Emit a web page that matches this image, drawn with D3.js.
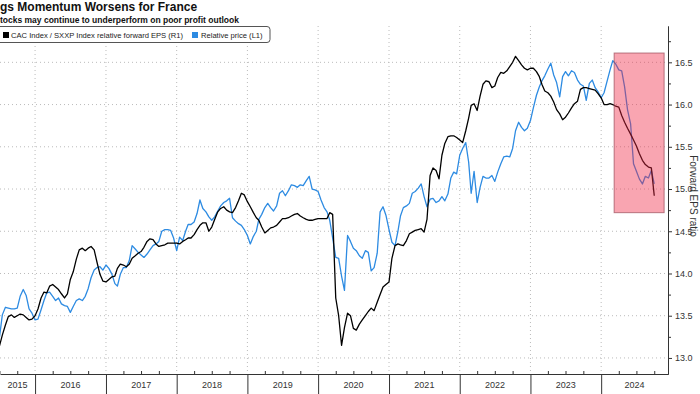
<!DOCTYPE html>
<html>
<head>
<meta charset="utf-8">
<script src="https://cdn.jsdelivr.net/npm/d3@7"></script>
<style>
  body { margin: 0; background: #fff; }
  svg { font-family: "Liberation Sans", Arial, sans-serif; display: block; }
  .axis text { fill: #333; font-size: 9px; }
  .axis path, .axis line { stroke: #333; }
</style>
</head>
<body>
<div id="chart"></div>
<script>
// CAC / SXXP relative forward EPS (right axis), semi-monthly from Jul 2015
const epsRatio = [
  13.14,13.27,13.39,13.49,13.51,13.48,13.50,13.52,13.51,13.48,
  13.45,13.46,13.50,13.58,13.71,13.78,13.77,13.85,13.87,13.84,
  13.81,13.76,13.71,13.76,13.93,14.02,14.17,14.28,14.30,14.27,
  14.30,14.32,14.28,14.13,13.99,13.91,13.90,13.93,13.96,13.97,
  14.06,14.11,14.10,14.08,14.11,14.18,14.21,14.24,14.26,14.31,
  14.38,14.41,14.40,14.35,14.32,14.33,14.34,14.36,14.36,14.36,
  14.36,14.35,14.38,14.40,14.42,14.42,14.46,14.52,14.57,14.60,
  14.60,14.50,14.55,14.64,14.73,14.77,14.79,14.75,14.73,14.72,
  14.78,14.86,14.95,14.93,14.85,14.79,14.72,14.66,14.63,14.55,
  14.48,14.51,14.54,14.55,14.57,14.61,14.65,14.65,14.66,14.68,
  14.70,14.71,14.68,14.66,14.64,14.63,14.63,14.64,14.65,14.65,
  14.65,14.65,14.72,14.70,13.71,13.50,13.15,13.36,13.53,13.50,
  13.35,13.33,13.40,13.45,13.50,13.55,13.59,13.56,13.66,13.75,
  13.84,13.87,13.90,14.18,14.33,14.35,14.34,14.33,14.39,14.47,
  14.49,14.51,14.52,14.53,14.49,14.64,15.16,15.25,15.22,15.12,
  15.40,15.54,15.62,15.63,15.63,15.61,15.58,15.55,15.69,15.84,
  15.99,16.01,15.93,16.10,16.24,16.28,16.27,16.20,16.22,16.32,
  16.38,16.37,16.40,16.45,16.50,16.57,16.52,16.47,16.43,16.41,
  16.43,16.43,16.39,16.33,16.24,16.16,16.14,16.10,16.03,15.94,
  15.89,15.82,15.85,15.90,15.96,16.01,16.04,16.18,16.20,16.20,
  16.19,16.18,16.17,16.13,16.08,16.00,16.00,16.01,16.00,15.98,
  15.97,15.87,15.79,15.72,15.65,15.58,15.51,15.42,15.34,15.29,
  15.26,15.25,14.92
];

// Relative price (left axis, not shown in the crop), same dates
const relPrice = [
  13.24,13.51,13.60,13.59,13.58,13.58,13.59,13.73,13.81,13.74,
  13.58,13.53,13.45,13.46,13.57,13.68,13.77,13.78,13.73,13.68,
  13.71,13.64,13.62,13.61,13.54,13.61,13.68,13.70,13.68,13.73,
  13.82,13.95,14.04,14.07,14.08,14.04,14.10,14.06,13.99,13.88,
  13.85,13.99,14.07,14.07,14.15,14.33,14.29,14.25,14.22,14.19,
  14.23,14.28,14.33,14.35,14.38,14.50,14.52,14.52,14.51,14.42,
  14.27,14.43,14.39,14.50,14.58,14.58,14.61,14.71,14.87,14.77,
  14.73,14.67,14.63,14.67,14.74,14.80,14.84,14.86,14.89,14.66,
  14.62,14.59,14.57,14.52,14.45,14.35,14.44,14.50,14.64,14.70,
  14.78,14.83,14.78,14.74,14.80,14.95,14.98,14.92,14.98,15.05,
  15.04,15.02,15.05,15.04,15.10,15.15,15.00,14.99,14.97,14.87,
  14.78,14.73,14.63,14.42,14.19,14.18,13.97,13.80,14.45,14.38,
  14.30,14.27,14.21,14.18,14.27,14.25,14.03,14.07,14.24,14.73,
  14.79,14.69,14.52,14.37,14.33,14.50,14.68,14.78,14.80,14.83,
  14.95,14.97,15.01,15.06,14.91,14.79,14.88,14.89,14.84,14.86,
  14.91,14.86,14.94,15.13,15.20,15.18,15.40,15.48,15.55,15.32,
  14.95,15.21,14.84,15.02,15.15,15.13,15.13,15.16,15.09,15.20,
  15.30,15.38,15.39,15.38,15.48,15.69,15.79,15.73,15.69,15.72,
  15.81,15.96,16.11,16.21,16.28,16.34,16.42,16.49,16.35,16.26,
  16.09,16.33,16.39,16.34,16.40,16.38,16.29,16.24,16.22,16.05,
  16.25,16.29,16.20,16.15,16.08,16.14,16.28,16.41,16.52,16.48,
  16.41,16.40,16.21,15.94,15.77,15.30,15.21,15.12,15.06,15.15,
  15.13,15.22,15.06
];

const rightTicks = [13.0, 13.5, 14.0, 14.5, 15.0, 15.5, 16.0, 16.5];
const yearLabels = [2015, 2016, 2017, 2018, 2019, 2020, 2021, 2022, 2023, 2024];
// highlighted period (dates + right axis values)
const highlight = { from: new Date(2024, 2, 8), to: new Date(2024, 10, 21), lo: 14.72, hi: 16.61 };

const W = 700, H = 394;
const plot = { left: 0, right: 668, top: 26, bottom: 374 };

// semi-monthly dates: 1st and 16th of each month from Jul 2015
const dates = epsRatio.map((d, i) => new Date(2015, 6 + Math.floor(i / 2), i % 2 ? 16 : 1));

const svg = d3.select("#chart").append("svg").attr("width", W).attr("height", H);
const defs = svg.append("defs");
defs.append("clipPath").attr("id", "clip").append("rect")
  .attr("x", plot.left).attr("y", plot.top)
  .attr("width", plot.right - plot.left).attr("height", plot.bottom - plot.top);

const x = d3.scaleTime().domain([new Date(2015, 6, 4), new Date(2024, 11, 11)]).range([plot.left, plot.right]);
const yR = d3.scaleLinear().domain([12.81, 16.93]).range([plot.bottom, plot.top]);
const yL = d3.scaleLinear().domain(yR.domain()).range(yR.range());

const yearStarts = d3.timeYear.range(new Date(2016, 0, 1), new Date(2025, 0, 1));
const quarters = d3.timeMonth.every(3).range(new Date(2015, 6, 1), new Date(2024, 11, 1))
  .filter(d => d.getMonth() !== 0);

// grid
const grid = svg.append("g").attr("stroke", "#bbb").attr("stroke-dasharray", "1,3");
grid.selectAll(".h").data(rightTicks).enter().append("line")
  .attr("x1", plot.left).attr("x2", plot.right)
  .attr("y1", d => yR(d)).attr("y2", d => yR(d));
grid.selectAll(".v").data(yearStarts).enter().append("line")
  .attr("x1", d => x(d)).attr("x2", d => x(d))
  .attr("y1", plot.top).attr("y2", plot.bottom);

// lines
const lines = svg.append("g").attr("clip-path", "url(#clip)");
lines.append("path").datum(relPrice)
  .attr("fill", "none").attr("stroke", "#2d8be2").attr("stroke-width", 1.3)
  .attr("stroke-linejoin", "round")
  .attr("d", d3.line().x((d, i) => x(dates[i])).y(d => yL(d)));
lines.append("path").datum(epsRatio)
  .attr("fill", "none").attr("stroke", "#000").attr("stroke-width", 1.3)
  .attr("stroke-linejoin", "round")
  .attr("d", d3.line().x((d, i) => x(dates[i])).y(d => yR(d)));

// highlight box
svg.append("rect")
  .attr("x", x(highlight.from)).attr("y", yR(highlight.hi))
  .attr("width", x(highlight.to) - x(highlight.from))
  .attr("height", yR(highlight.lo) - yR(highlight.hi))
  .attr("fill", "#f02846").attr("fill-opacity", 0.42)
  .attr("stroke", "#9a4a58").attr("stroke-opacity", 0.7).attr("stroke-width", 1);

// right axis
const minor = d3.range(13.0, 16.76, 0.25).filter(v => !rightTicks.includes(+v.toFixed(2)));
svg.append("g").attr("class", "axis")
  .attr("transform", `translate(${plot.right},0)`)
  .call(d3.axisRight(yR).tickValues(minor).tickSize(3).tickFormat("").tickSizeOuter(0));
svg.append("g").attr("class", "axis")
  .attr("transform", `translate(${plot.right},0)`)
  .call(d3.axisRight(yR).tickValues(rightTicks).tickSize(4).tickPadding(3)
    .tickFormat(d3.format(".1f")).tickSizeOuter(0));

svg.append("text")
  .attr("transform", "translate(690,196) rotate(90)")
  .attr("text-anchor", "middle").attr("font-size", 10).attr("fill", "#333")
  .text("Forward EPS ratio");

// bottom axis
svg.append("g").attr("class", "axis")
  .attr("transform", `translate(0,${plot.bottom})`)
  .call(d3.axisBottom(x).tickValues(yearStarts).tickSize(20).tickFormat("").tickSizeOuter(0));
svg.append("g").attr("class", "axis")
  .attr("transform", `translate(0,${plot.bottom})`)
  .call(d3.axisTop(x).tickValues(quarters).tickSize(3).tickFormat("").tickSizeOuter(0))
  .select(".domain").remove();

svg.append("g").selectAll("text").data(yearLabels).enter().append("text")
  .attr("x", yr => {
    const a = Math.max(x(new Date(yr, 0, 1)), plot.left);
    const b = Math.min(x(new Date(yr + 1, 0, 1)), plot.right);
    return (a + b) / 2;
  })
  .attr("y", 388).attr("text-anchor", "middle")
  .attr("font-size", 9).attr("fill", "#333")
  .text(d => d);

// titles
svg.append("text").attr("x", 0).attr("y", 11)
  .attr("font-size", 12).attr("font-weight", "bold").attr("fill", "#111")
  .text("gs Momentum Worsens for France");
svg.append("text").attr("x", 0).attr("y", 22.5)
  .attr("font-size", 8.5).attr("font-weight", "bold").attr("fill", "#111")
  .text("tocks may continue to underperform on poor profit outlook");

// legend
const lg = svg.append("g");
lg.append("rect").attr("x", -4).attr("y", 26.5).attr("width", 274).attr("height", 16)
  .attr("rx", 3).attr("fill", "#fff").attr("stroke", "#555");
lg.append("rect").attr("x", 3).attr("y", 32).attr("width", 6).attr("height", 6).attr("fill", "#000");
lg.append("text").attr("x", 11).attr("y", 38).attr("font-size", 7.6).attr("fill", "#222")
  .text("CAC Index / SXXP Index relative forward EPS (R1)");
lg.append("rect").attr("x", 192).attr("y", 32).attr("width", 6).attr("height", 6).attr("fill", "#2d8be2");
lg.append("text").attr("x", 201).attr("y", 38).attr("font-size", 7.6).attr("fill", "#222")
  .text("Relative price (L1)");
</script>
</body>
</html>
